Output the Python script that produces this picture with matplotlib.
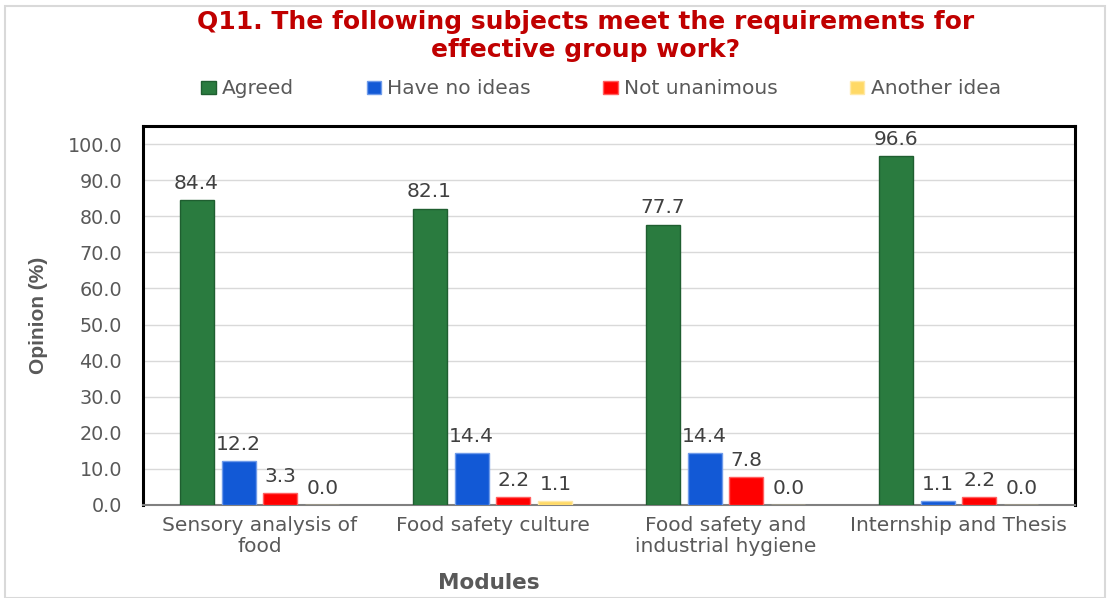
import matplotlib
matplotlib.use("Agg")
import matplotlib.pyplot as plt
import numpy as np
from matplotlib.patches import Rectangle

modules = ["Sensory analysis of\nfood", "Food safety culture",
           "Food safety and\nindustrial hygiene", "Internship and Thesis"]
series_names = ["Agreed", "Have no ideas", "Not unanimous", "Another idea"]
agreed = [84.4, 82.1, 77.7, 96.6]
no_ideas = [12.2, 14.4, 14.4, 1.1]
not_unanimous = [3.3, 2.2, 7.8, 2.2]
another_idea = [0.0, 1.1, 0.0, 0.0]
yticks = [0, 10, 20, 30, 40, 50, 60, 70, 80, 90, 100]

colors = ["#2A7B3F", "#1259D6", "#FF0000", "#FFD966"]
edges = ["#1F5E30", "#6F9BEA", "#FF6060", "#FFE9A8"]
text_grey = "#595959"

fig = plt.figure(figsize=(11.07, 5.98), dpi=100)
ax = fig.add_axes([143 / 1107, 1 - 505 / 598, (1075 - 143) / 1107, (505 - 126) / 598])

x = np.arange(len(modules))
width = 0.146
pitch = 0.18
offsets = (np.arange(4) - 1.5) * pitch
all_series = [agreed, no_ideas, not_unanimous, another_idea]

for i, (vals, name) in enumerate(zip(all_series, series_names)):
    bars = ax.bar(x + offsets[i], vals, width, color=colors[i], edgecolor=edges[i],
                  linewidth=1, label=name, zorder=3)
    for b, v in zip(bars, vals):
        ax.text(b.get_x() + b.get_width() / 2, v + 2.0, f"{v:.1f}", ha="center",
                va="bottom", fontsize=14.5, color="#404040", family="DejaVu Sans")

ax.set_xlim(-0.5, 3.5)
ax.set_ylim(0, 105)
ax.set_yticks(yticks)
ax.set_yticklabels([f"{v:.1f}" for v in yticks], fontsize=13.8, color=text_grey,
                   family="DejaVu Sans")
ax.set_xticks(x)
ax.set_xticklabels(modules, fontsize=14.5, color=text_grey, family="DejaVu Sans",
                   linespacing=1.15)
ax.tick_params(axis="x", length=0, pad=8)
ax.tick_params(axis="y", length=0, pad=15)
ax.grid(axis="y", color="#D9D9D9", linewidth=1, zorder=0)

for side in ["left", "top", "right"]:
    ax.spines[side].set_color("black")
    ax.spines[side].set_linewidth(2.2)
ax.spines["bottom"].set_color("#808080")
ax.spines["bottom"].set_linewidth(1.5)

ax.set_ylabel("Opinion (%)", fontsize=15, fontweight="bold", color=text_grey,
              family="Liberation Sans", labelpad=14)

fig.text(489 / 1107, 1 - 583 / 598, "Modules", ha="center", va="center",
         fontsize=15.5, fontweight="bold", color=text_grey, family="DejaVu Sans")

fig.text(586 / 1107, 1 - 36 / 598,
         "Q11. The following subjects meet the requirements for\neffective group work?",
         ha="center", va="center", fontsize=18, fontweight="bold", color="#C00000",
         family="DejaVu Sans", linespacing=1.22)

leg = fig.legend(loc="center", bbox_to_anchor=(601 / 1107, 1 - 89 / 598), ncol=4,
                 frameon=False, prop={"family": "DejaVu Sans", "size": 14.5},
                 handlelength=0.72, handleheight=0.65, handletextpad=0.3,
                 columnspacing=3.6)
for t in leg.get_texts():
    t.set_color(text_grey)

fig.patches.append(Rectangle((5 / 1107, 0), 1 - 5 / 1107 - 2 / 1107, 1 - 6 / 598,
                             transform=fig.transFigure, fill=False,
                             edgecolor="#D9D9D9", linewidth=1.5))

fig.savefig("out.png", dpi=100)
